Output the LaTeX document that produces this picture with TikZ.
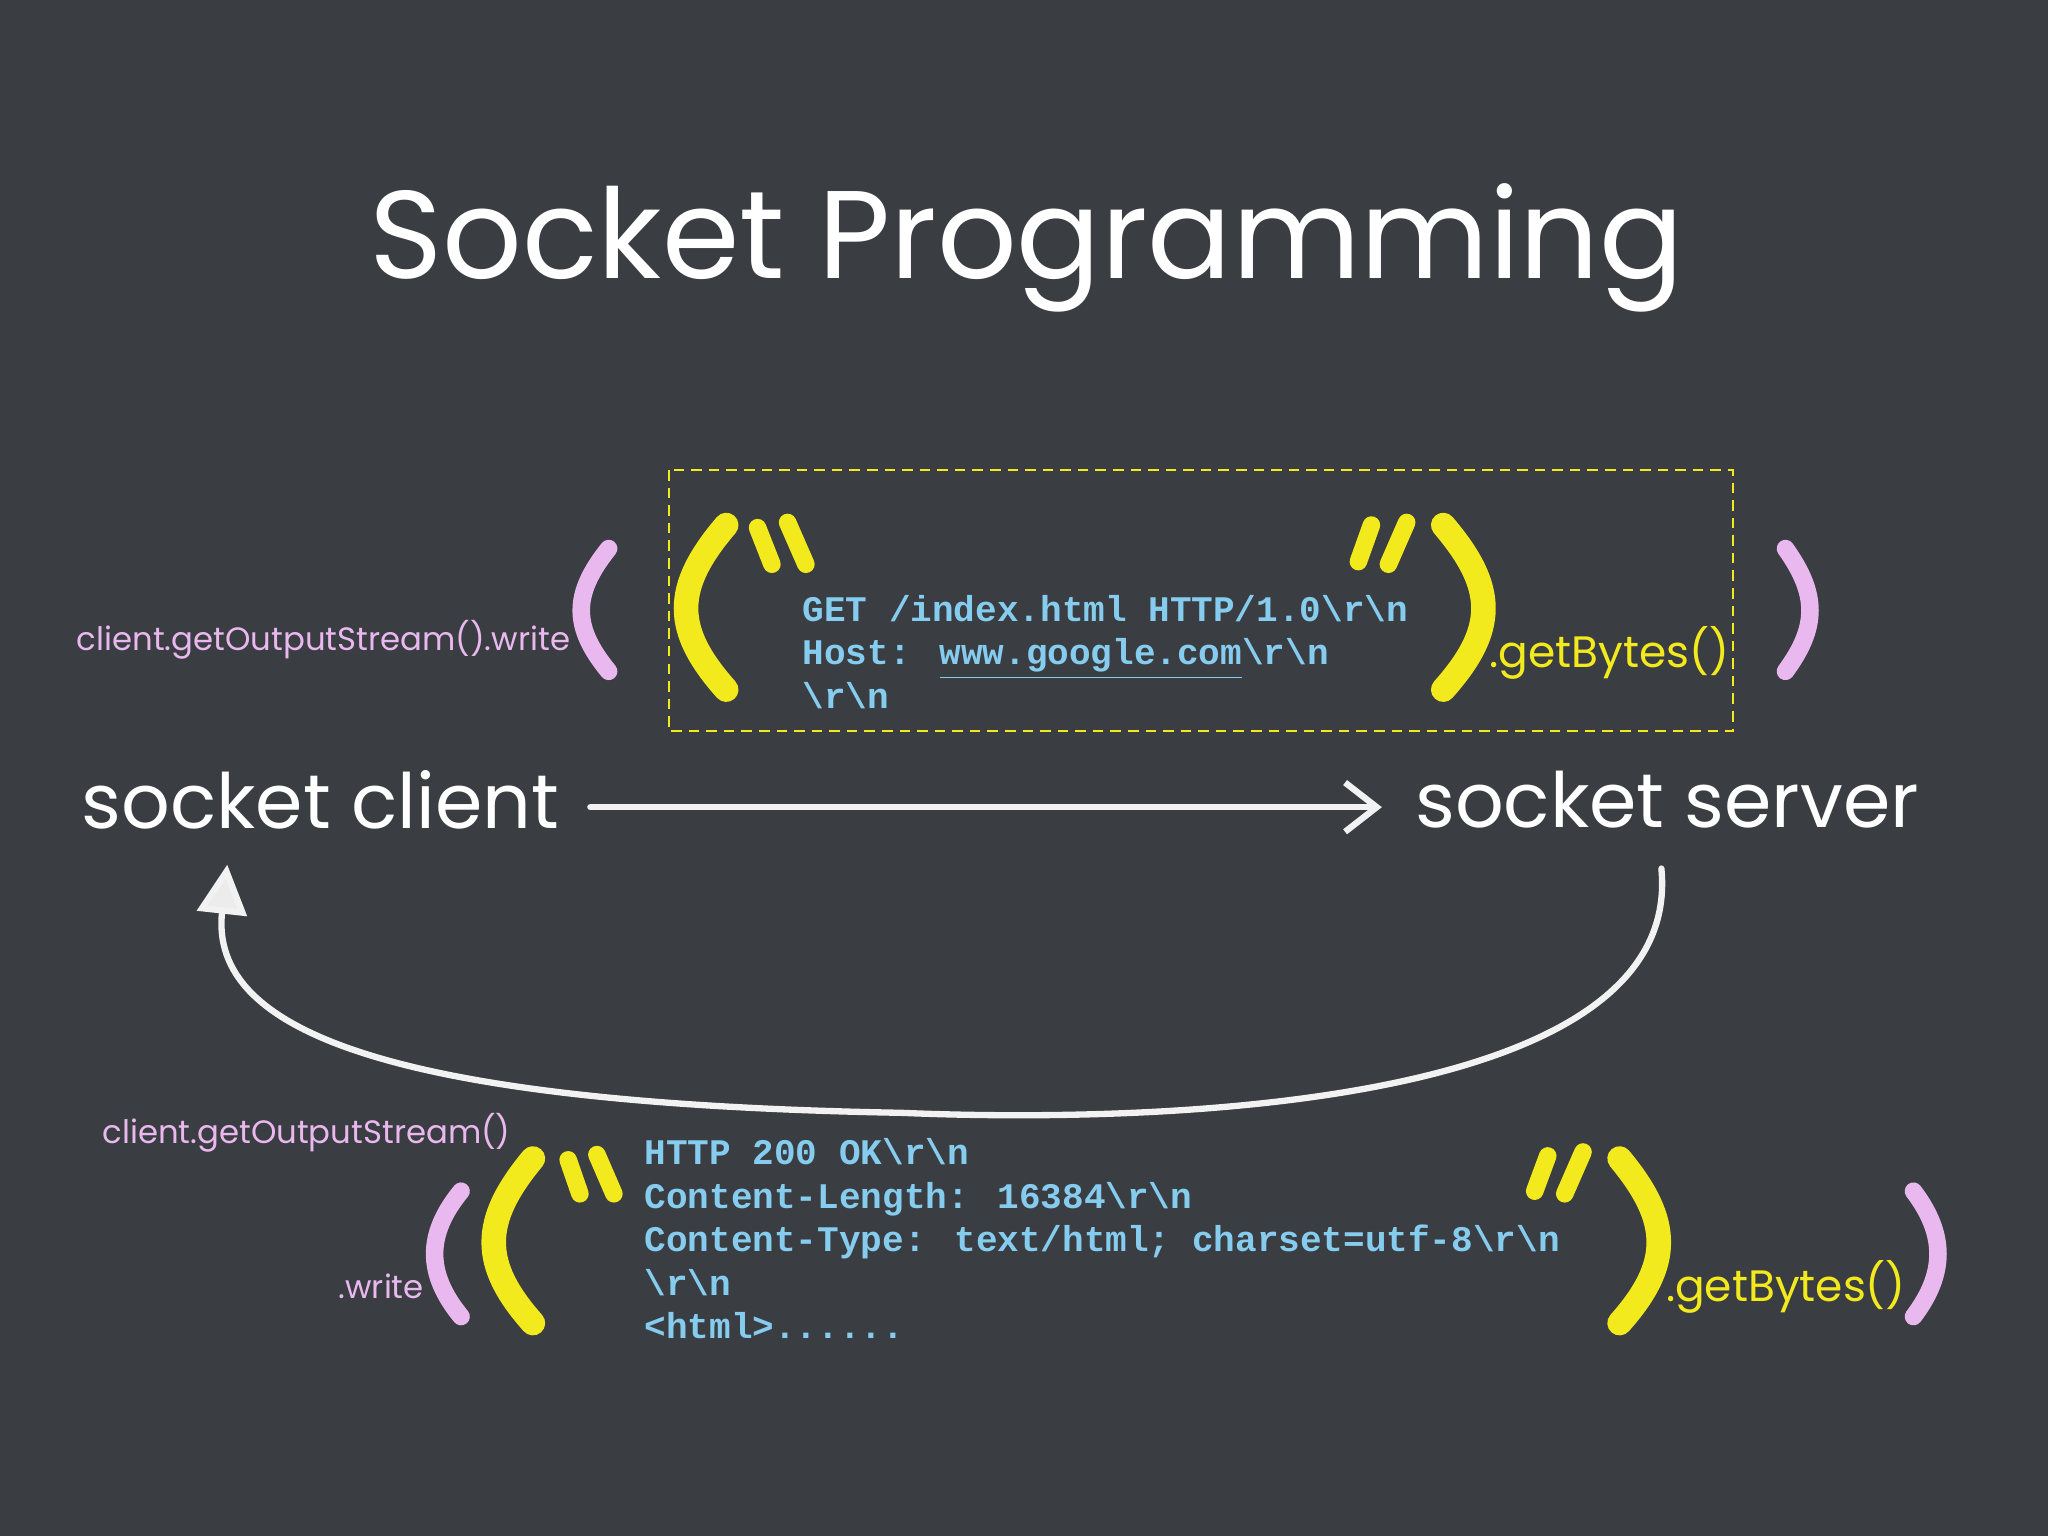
\documentclass[tikz,border=0pt]{standalone}
\usepackage{fontspec}
\setmainfont{Poppins}
\newfontfamily\monof{Liberation Mono}
\usetikzlibrary{arrows.meta}
\definecolor{bg}{HTML}{3A3D42}
\definecolor{pk}{HTML}{E9B8EE}
\definecolor{yl}{HTML}{F2EA1C}
\definecolor{cb}{HTML}{86CCEE}
\newcommand{\bsl}{\textbackslash}
\tikzset{
 pparen/.style={draw=pk,line width=5pt,line cap=round},
 yparen/.style={draw=yl,line width=7pt,line cap=round},
 ystroke/.style={draw=yl,line width=5pt,line cap=round},
 code/.style={anchor=north west,font=\monof\bfseries\fontsize{10.25}{12.4}\selectfont,text=cb,align=left,inner sep=0pt},
 pinktxt/.style={text=pk,font=\fontsize{9.2}{11}\selectfont,inner sep=0pt},
 yeltxt/.style={text=yl,font=\fontsize{12.5}{14}\selectfont,inner sep=0pt},
 big/.style={text=white,font=\fontsize{21.7}{26}\selectfont,inner sep=0pt},
 chalk/.style={draw=white!90!gray,line width=1.8pt,line cap=round}
}
\begin{document}
\begin{tikzpicture}[x=0.013061cm,y=-0.013061cm]
\fill[bg] (0,0) rectangle (1568,1176);
\useasboundingbox (0,0) rectangle (1568,1176);
\node[text=white,font=\fontsize{35.5}{42}\selectfont,inner sep=0pt] (title) at (786,190) {Socket Programming};
% request box
\draw[yl,densely dashed,line width=0.6pt] (512,360) rectangle (1327,560);
\node[pinktxt,anchor=east] (w1) at (437,490) {client.getOutputStream().write};
\draw[pparen] (466,420) .. controls (438,455) and (438,480) .. (466,514);
\draw[yparen] (556,402) .. controls (515,450) and (515,482) .. (556,528);
\draw[ystroke] (580,404) -- (591,432); \draw[ystroke] (603,400) -- (617,432);
\node[code] (req) at (614,455) {GET /index.html HTTP/1.0\bsl r\bsl n\\Host: \underline{www.google.com}\bsl r\bsl n\\\bsl r\bsl n};
\draw[ystroke] (1040,430) -- (1050,402); \draw[ystroke] (1063,432) -- (1077,400);
\draw[yparen] (1105,402) .. controls (1146,450) and (1146,482) .. (1105,528);
\node[yeltxt,anchor=west] (gb1) at (1140,500) {.getBytes()};
\draw[pparen] (1367,420) .. controls (1392,455) and (1392,480) .. (1367,514);
% main labels
\node[big,anchor=west] (client) at (62,612) {socket client};
\node[big,anchor=west] (server) at (1083,612) {socket server};
\coordinate (a1) at (452,618);
\coordinate (a2) at (1058,618);
\draw[chalk,-{Straight Barb[length=9pt,width=14pt]}] (a1) -- (a2);
\coordinate (b1) at (1272,665);
\coordinate (b2) at (174,662);
\draw[chalk,-{Triangle[length=14pt,width=14pt,fill=white!85!gray]}] (b1) .. controls (1290,850) and (880,860) .. (690,852) .. controls (300,845) and (160,790) .. (b2);
% response
\node[pinktxt,anchor=west] (w2) at (78,867) {client.getOutputStream()};
\node[pinktxt,anchor=east] (w3) at (325,985) {.write};
\draw[pparen] (353,912) .. controls (326,945) and (326,975) .. (353,1008);
\draw[yparen] (408,887) .. controls (368,935) and (368,968) .. (408,1013);
\draw[ystroke] (435,888) -- (444,914); \draw[ystroke] (457,884) -- (470,914);
\node[code] (resp) at (493,871) {HTTP 200 OK\bsl r\bsl n\\Content-Length: 16384\bsl r\bsl n\\Content-Type: text/html; charset=utf-8\bsl r\bsl n\\\bsl r\bsl n\\<html>......};
\draw[ystroke] (1175,912) -- (1185,885); \draw[ystroke] (1198,914) -- (1212,882);
\draw[yparen] (1240,887) .. controls (1280,935) and (1280,968) .. (1240,1013);
\node[yeltxt,anchor=west] (gb2) at (1275,985) {.getBytes()};
\draw[pparen] (1465,912) .. controls (1490,945) and (1490,975) .. (1465,1008);
\end{tikzpicture}
\end{document}
